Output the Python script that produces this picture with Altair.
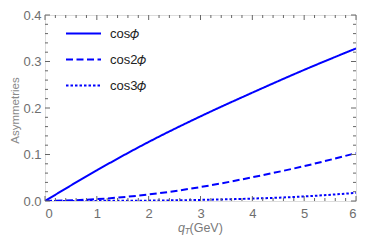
import altair as alt
import pandas as pd
import numpy as np

qt = [0, 1, 2, 3, 4, 5, 6]
cos1 = [0.0, 0.066, 0.127, 0.182, 0.233, 0.282, 0.328]
cos2 = [0.0, 0.004, 0.014, 0.030, 0.051, 0.075, 0.103]
cos3 = [0.0, 0.0002, 0.0008, 0.0024, 0.0052, 0.0098, 0.0175]
labels = ["cos\U0001D719", "cos2\U0001D719", "cos3\U0001D719"]

x_major = [0, 1, 2, 3, 4, 5, 6]
y_major = [0.0, 0.1, 0.2, 0.3, 0.4]
x_minor = [round(v, 2) for v in np.arange(0, 6.001, 0.2) if abs(v - round(v)) > 1e-6]
y_minor = [round(v, 3) for v in np.arange(0, 0.4001, 0.02) if abs(v * 10 - round(v * 10)) > 1e-6]

W, H = 311, 186
GRAY = "#666666"
FONT = "Liberation Sans"

rows = []
for lab, ser in zip(labels, [cos1, cos2, cos3]):
    for xv, yv in zip(qt, ser):
        rows.append({"qT": xv, "A": yv, "series": lab})
df = pd.DataFrame(rows)

xs = alt.Scale(domain=[0, 6], nice=False, zero=False)
ys = alt.Scale(domain=[0, 0.4], nice=False)

lines = alt.Chart(df).mark_line(strokeWidth=2, color="#0000ff", interpolate="monotone", clip=True).encode(
    x=alt.X("qT:Q", scale=xs, axis=alt.Axis(values=x_major, title=None, tickSize=0, domain=False, grid=False,
                                            labelPadding=6, labelFontSize=13, labelColor="#6e6e6e", labelFont=FONT,
                                            format="d")),
    y=alt.Y("A:Q", scale=ys, axis=alt.Axis(values=y_major, title="Asymmetries", tickSize=0, domain=False, grid=False,
                                           labelPadding=4, labelFontSize=13, labelColor="#6e6e6e", labelFont=FONT,
                                           format=".1f", titleFont=FONT, titleFontSize=11.5, titleFontWeight="normal",
                                           titleColor="#8a8a8a", titleAngle=270, titleX=-30, titleY=95,
                                           titleAlign="center", titleBaseline="middle")),
    strokeDash=alt.StrokeDash("series:N", sort=labels,
                              scale=alt.Scale(domain=labels, range=[[1, 0], [7, 3.5], [2.5, 2]]),
                              legend=alt.Legend(title=None, orient="none", legendX=20, legendY=0, padding=0,
                                                symbolType="stroke", symbolSize=1225, symbolStrokeWidth=2,
                                                symbolStrokeColor="#0000ff", labelFont=FONT, labelFontSize=13,
                                                labelColor="#222222", labelOffset=8, rowPadding=-10)),
)

def tick_layer(vals, channel, length, side):
    d = pd.DataFrame({"v": vals})
    base = alt.Chart(d).mark_rule(color=GRAY, strokeWidth=1)
    if channel == "x":
        if side == "bottom":
            return base.encode(x=alt.X("v:Q", scale=xs), y=alt.value(H), y2=alt.value(H - length))
        return base.encode(x=alt.X("v:Q", scale=xs), y=alt.value(0), y2=alt.value(length))
    if side == "left":
        return base.encode(y=alt.Y("v:Q", scale=ys), x=alt.value(0), x2=alt.value(length))
    return base.encode(y=alt.Y("v:Q", scale=ys), x=alt.value(W), x2=alt.value(W - length))

ticks = [
    tick_layer(x_major, "x", 5, "bottom"), tick_layer(x_minor, "x", 3, "bottom"),
    tick_layer(x_major, "x", 5, "top"), tick_layer(x_minor, "x", 3, "top"),
    tick_layer(y_major, "y", 5, "left"), tick_layer(y_minor, "y", 3, "left"),
    tick_layer(y_major, "y", 5, "right"), tick_layer(y_minor, "y", 3, "right"),
]

TY = 217
title_q = alt.Chart(pd.DataFrame({"t": ["q"]})).mark_text(font=FONT, fontSize=12.5, fontStyle="italic", color="#7a7a7a",
                                                          align="left", baseline="alphabetic").encode(
    text="t:N", x=alt.value(133), y=alt.value(TY))
title_T = alt.Chart(pd.DataFrame({"t": ["T"]})).mark_text(font=FONT, fontSize=9, fontStyle="italic", color="#7a7a7a",
                                                          align="left", baseline="alphabetic").encode(
    text="t:N", x=alt.value(139.5), y=alt.value(TY + 2))
title_g = alt.Chart(pd.DataFrame({"t": ["(GeV)"]})).mark_text(font=FONT, fontSize=12.5, color="#7a7a7a",
                                                              align="left", baseline="alphabetic").encode(
    text="t:N", x=alt.value(144.5), y=alt.value(TY))

chart = alt.layer(lines, *ticks, title_q, title_T, title_g).properties(
    width=W, height=H,
    autosize=alt.AutoSizeParams(type="none"),
    padding={"left": 37, "top": 7, "right": 1, "bottom": 36},
).configure_view(stroke=GRAY, strokeWidth=2).configure(background="white")

chart.save("out.html", embed_options={"renderer": "svg", "actions": False})
